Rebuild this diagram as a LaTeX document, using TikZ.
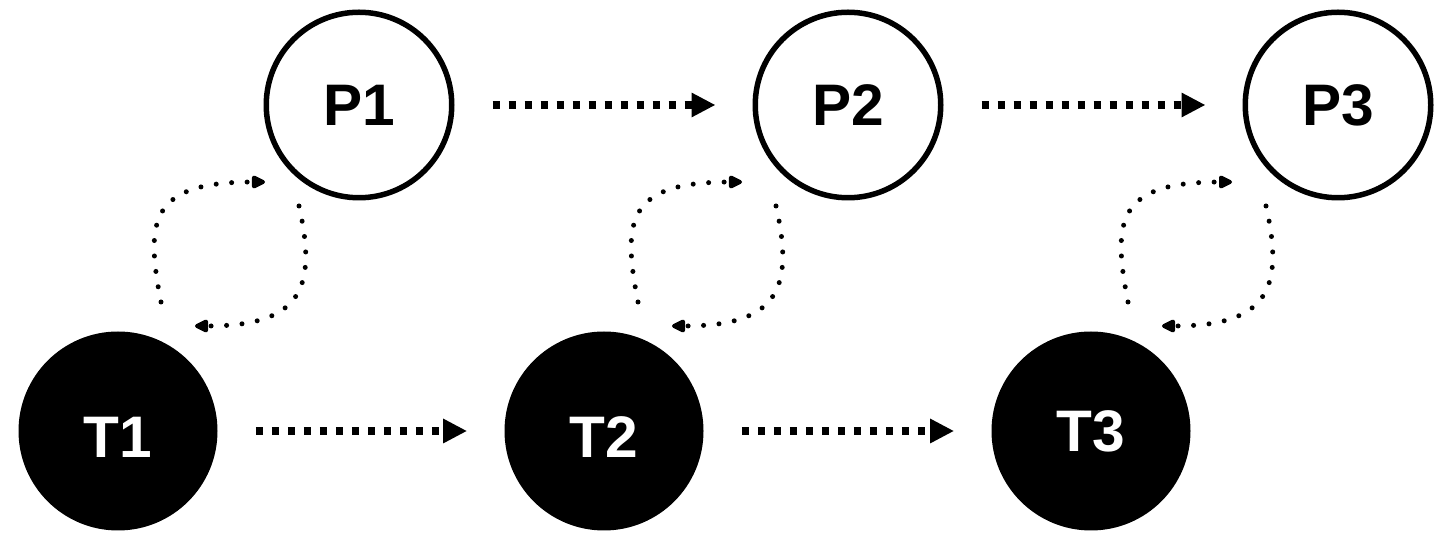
\documentclass[tikz,border=0pt]{standalone}
\usepackage{fontspec}
\setmainfont{Liberation Sans}
\usetikzlibrary{arrows.meta}
\begin{document}
\begin{tikzpicture}[x=0.5pt,y=-0.5pt,
  label font/.style={font=\fontsize{29.3}{32}\selectfont\bfseries},
  pnode/.style={circle,draw=black,line width=2.75pt,fill=white,
    minimum size=92.75pt,inner sep=0pt,label font},
  tnode/.style={circle,fill=black,text=white,
    minimum size=99.5pt,inner sep=0pt,label font},
  low text/.style={text height=27pt,text depth=0pt},
  flow/.style={line width=3.75pt,dash pattern=on 3.75pt off 4.25pt,
    -{Triangle[length=12pt,width=11.5pt]},
    shorten <=19pt,shorten >=18.5pt},
  exchange/.style={line width=2.5pt,line cap=round,
    dash pattern=on 0pt off 7.75pt,
    -{Triangle[length=8pt,width=7pt,round=false]}}
]
\useasboundingbox (0,0) rectangle (1441,533);

% persistent states (top) and transient states (bottom)
\node[pnode] (P1) at (359,105) {P1};
\node[pnode] (P2) at (848,105) {P2};
\node[pnode] (P3) at (1338,105) {P3};
\node[tnode,low text] (T1) at (118,431) {T1};
\node[tnode,low text] (T2) at (604,431) {T2};
\node[tnode] (T3) at (1091,431) {T3};

% progression along each row
\draw[flow] (P1) -- (P2);
\draw[flow] (P2) -- (P3);
\draw[flow] (T1) -- (T2);
\draw[flow] (T2) -- (T3);

% exchange loops between each T and its P
\foreach \i/\dx in {1/0,2/477,3/967} {
  \coordinate (up\i s) at (161+\dx,302);
  \coordinate (up\i e) at (265+\dx,182);
  \coordinate (dn\i s) at (299+\dx,206);
  \coordinate (dn\i e) at (195+\dx,326);
  \draw[exchange] (up\i s) .. controls (145+\dx,220) and (150+\dx,182) .. (up\i e);
  \draw[exchange] (dn\i s) .. controls (318+\dx,290) and (300+\dx,326) .. (dn\i e);
}
\end{tikzpicture}
\end{document}
